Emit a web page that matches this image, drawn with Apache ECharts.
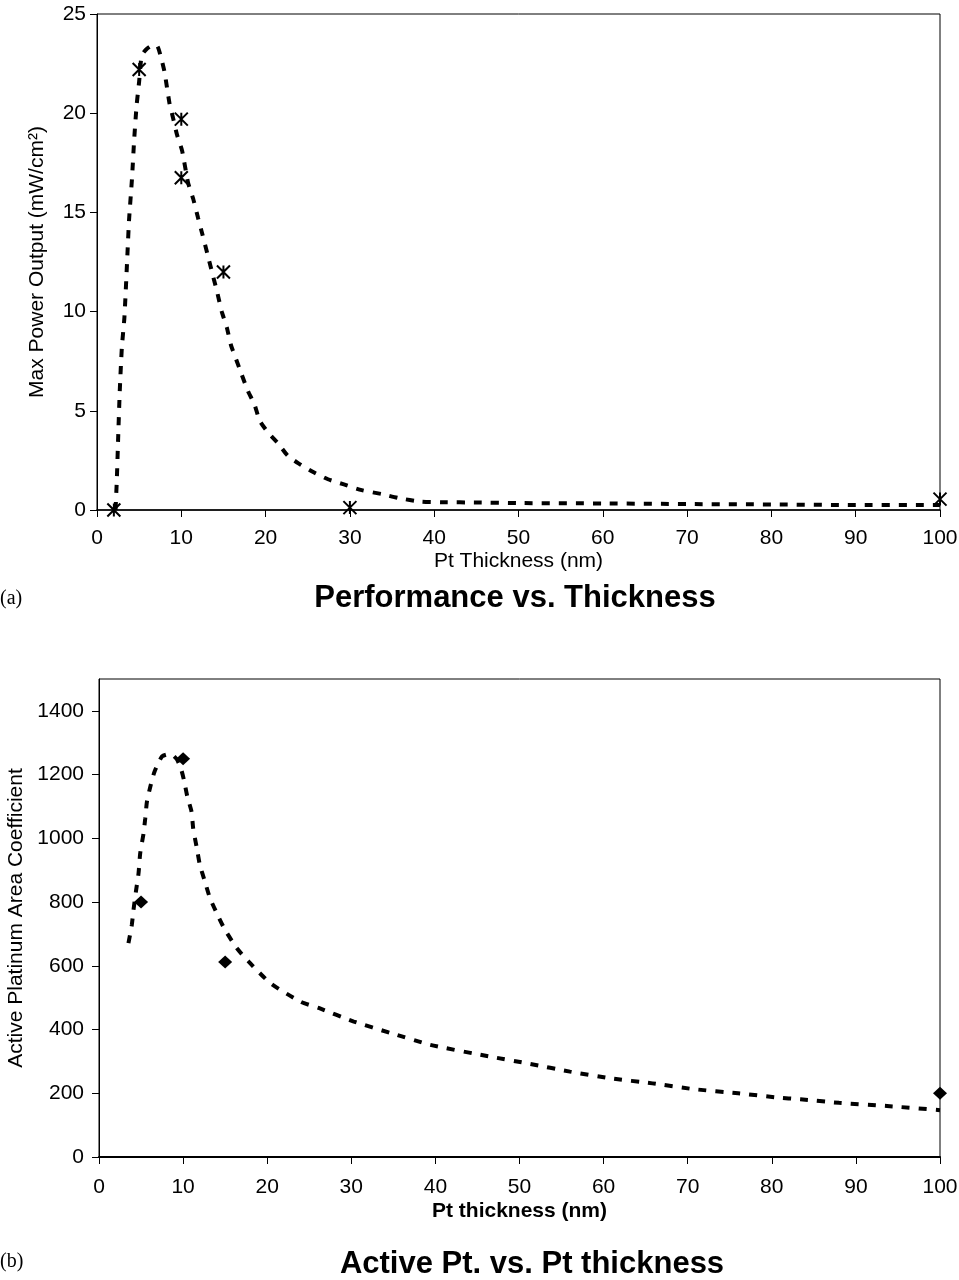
<!DOCTYPE html>
<html>
<head>
<meta charset="utf-8">
<script src="https://cdn.jsdelivr.net/npm/echarts@6/dist/echarts.min.js"></script>
<style>
  html, body { margin: 0; padding: 0; background: #fff; }
  #main { width: 959px; height: 1280px; }
</style>
</head>
<body>
<div id="main"></div>
<script>
// (a) measured power output, asterisk markers
const powerPoints = [[2, 0], [5, 22.2], [10, 19.7], [10, 16.75], [15, 12.0], [30, 0.12], [100, 0.55]]
// (a) dashed trend line
const powerTrend = [
  [2.2, 0], [2.35, 1.5], [2.5, 3.5], [2.7, 6], [2.95, 8.2], [3.25, 9.7], [3.6, 12.8], [3.8, 14.6],
  [4.15, 16.7], [4.4, 18.6], [4.7, 20.4], [5.0, 21.6], [5.3, 22.9], [5.8, 23.2], [6.5, 23.4], [7.1, 23.4],
  [7.6, 22.8], [8.0, 22.1], [8.6, 20.5], [9.0, 19.8], [9.5, 18.9], [10.1, 18.1], [10.8, 16.5], [11.4, 15.7],
  [12.0, 14.7], [12.5, 13.9], [13.1, 12.9], [13.7, 11.9], [14.3, 10.9], [14.8, 10.0], [15.4, 9.2], [15.9, 8.3],
  [16.5, 7.6], [17.1, 6.9], [17.9, 6.0], [18.7, 5.3], [19.3, 4.5], [20.3, 3.9], [21.5, 3.35], [22.6, 2.75],
  [23.9, 2.35], [25.7, 1.9], [27.4, 1.55], [29.2, 1.3], [31.4, 1.0], [33.8, 0.8], [35.8, 0.6], [38.4, 0.42],
  [41.1, 0.39], [45, 0.38], [50, 0.35], [60, 0.33], [70, 0.3], [80, 0.28], [90, 0.25], [100, 0.25]
]
// (b) active platinum area coefficient, diamond markers
const areaPoints = [[5, 800], [10, 1250], [15, 612], [100, 200]]
// (b) dashed trend line
const areaTrend = [
  [3.5, 671], [3.9, 728], [4.1, 775], [4.4, 835], [4.7, 890], [4.9, 953], [5.3, 1016], [5.5, 1063],
  [5.7, 1115], [6.1, 1162], [6.6, 1209], [7.5, 1257], [8.5, 1265], [9.2, 1250], [9.7, 1223], [10.1, 1183],
  [10.5, 1131], [11.0, 1084], [11.2, 1031], [11.6, 974], [12.0, 916], [12.6, 864], [13.2, 812], [14.2, 754],
  [15.0, 712], [16.4, 655], [17.8, 613], [20.4, 545], [24, 487], [26.2, 467], [30.3, 425], [34.7, 389],
  [39.4, 352], [46.3, 316], [51.3, 292], [56, 268], [60.8, 247], [65.8, 231], [70.7, 213], [76, 200],
  [80.6, 187], [83.4, 181], [88, 170], [93.7, 160], [100, 147]
]
const xTicks = [0, 10, 20, 30, 40, 50, 60, 70, 80, 90, 100]
const yTicksA = [0, 5, 10, 15, 20, 25]
const yTicksB = [0, 200, 400, 600, 800, 1000, 1200, 1400]

const font = "'Liberation Sans', Arial, sans-serif"
const starPath = 'path://M0,0L10,10M10,0L0,10M5,0L5,10'
const plain = function (v) { return String(v) }

const chart = echarts.init(document.getElementById('main'))

function xAxisOf(gridIndex, name, bold, labelMargin, nameGap, lineWidth) {
  return {
    gridIndex: gridIndex,
    type: 'value',
    min: 0,
    max: 100,
    interval: 10,
    name: name,
    nameLocation: 'middle',
    nameGap: nameGap,
    nameTextStyle: { color: '#000', fontSize: 21, fontFamily: font, fontWeight: bold ? 'bold' : 'normal' },
    axisLine: { show: true, onZero: false, lineStyle: { color: '#000', width: lineWidth } },
    axisTick: { show: true, length: 7, lineStyle: { color: '#000', width: 1 }, customValues: xTicks },
    axisLabel: { color: '#000', fontSize: 21, fontFamily: font, margin: labelMargin, customValues: xTicks, formatter: plain },
    splitLine: { show: false }
  }
}

const option = {
  animation: false,
  backgroundColor: '#fff',
  grid: [
    { left: 97, top: 14, width: 843, height: 496, show: true, borderColor: '#000', borderWidth: 1, outerBoundsMode: 'none', containLabel: false },
    { left: 99, top: 679, width: 841, height: 478, show: true, borderColor: '#000', borderWidth: 1, outerBoundsMode: 'none', containLabel: false }
  ],
  xAxis: [
    xAxisOf(0, 'Pt Thickness (nm)', false, 18, 41, 1.5),
    xAxisOf(1, 'Pt thickness (nm)', true, 20, 44, 2)
  ],
  yAxis: [
    {
      gridIndex: 0,
      type: 'value',
      min: 0,
      max: 25,
      interval: 5,
      name: 'Max Power Output (mW/cm²)',
      nameLocation: 'middle',
      nameGap: 49,
      nameTextStyle: { color: '#000', fontSize: 21, fontFamily: font },
      axisLine: { show: true, lineStyle: { color: '#000', width: 1 } },
      axisTick: { show: true, length: 7, lineStyle: { color: '#000' }, customValues: yTicksA },
      axisLabel: { color: '#000', fontSize: 21, fontFamily: font, margin: 11, customValues: yTicksA, formatter: plain },
      splitLine: { show: false }
    },
    {
      gridIndex: 1,
      type: 'value',
      min: 0,
      max: 1500,
      interval: 100,
      name: 'Active Platinum Area Coefficient',
      nameLocation: 'middle',
      nameGap: 71,
      nameTextStyle: { color: '#000', fontSize: 21, fontFamily: font },
      axisLine: { show: true, lineStyle: { color: '#000', width: 1 } },
      axisTick: { show: true, length: 7, lineStyle: { color: '#000' }, customValues: yTicksB },
      axisLabel: { color: '#000', fontSize: 21, fontFamily: font, margin: 15, customValues: yTicksB, formatter: plain },
      splitLine: { show: false }
    }
  ],
  series: [
    {
      type: 'line',
      xAxisIndex: 0,
      yAxisIndex: 0,
      data: powerTrend,
      showSymbol: false,
      smooth: 0.2,
      lineStyle: { color: '#000', width: 4, type: [8, 9] },
      z: 2
    },
    {
      type: 'scatter',
      xAxisIndex: 0,
      yAxisIndex: 0,
      data: powerPoints,
      symbol: starPath,
      symbolSize: 13,
      itemStyle: { color: '#000', borderColor: '#000', borderWidth: 2, opacity: 1 },
      z: 3
    },
    {
      type: 'line',
      xAxisIndex: 1,
      yAxisIndex: 1,
      data: areaTrend,
      showSymbol: false,
      smooth: 0.2,
      lineStyle: { color: '#000', width: 4, type: [8, 9] },
      z: 2
    },
    {
      type: 'scatter',
      xAxisIndex: 1,
      yAxisIndex: 1,
      data: areaPoints,
      symbol: 'diamond',
      symbolSize: [14, 13],
      itemStyle: { color: '#000', opacity: 1 },
      z: 3
    }
  ],
  graphic: [
    { type: 'text', left: 0, top: 589, style: { text: '(a)', font: "20px 'Liberation Serif', serif", fill: '#000' } },
    { type: 'text', x: 515, y: 598, style: { text: 'Performance vs. Thickness', font: "bold 31px " + font, fill: '#000', textAlign: 'center', textVerticalAlign: 'middle' } },
    { type: 'text', left: 0, top: 1252, style: { text: '(b)', font: "20px 'Liberation Serif', serif", fill: '#000' } },
    { type: 'text', x: 532, y: 1264, style: { text: 'Active Pt. vs. Pt thickness', font: "bold 31px " + font, fill: '#000', textAlign: 'center', textVerticalAlign: 'middle' } }
  ]
}

chart.setOption(option)
</script>
</body>
</html>
